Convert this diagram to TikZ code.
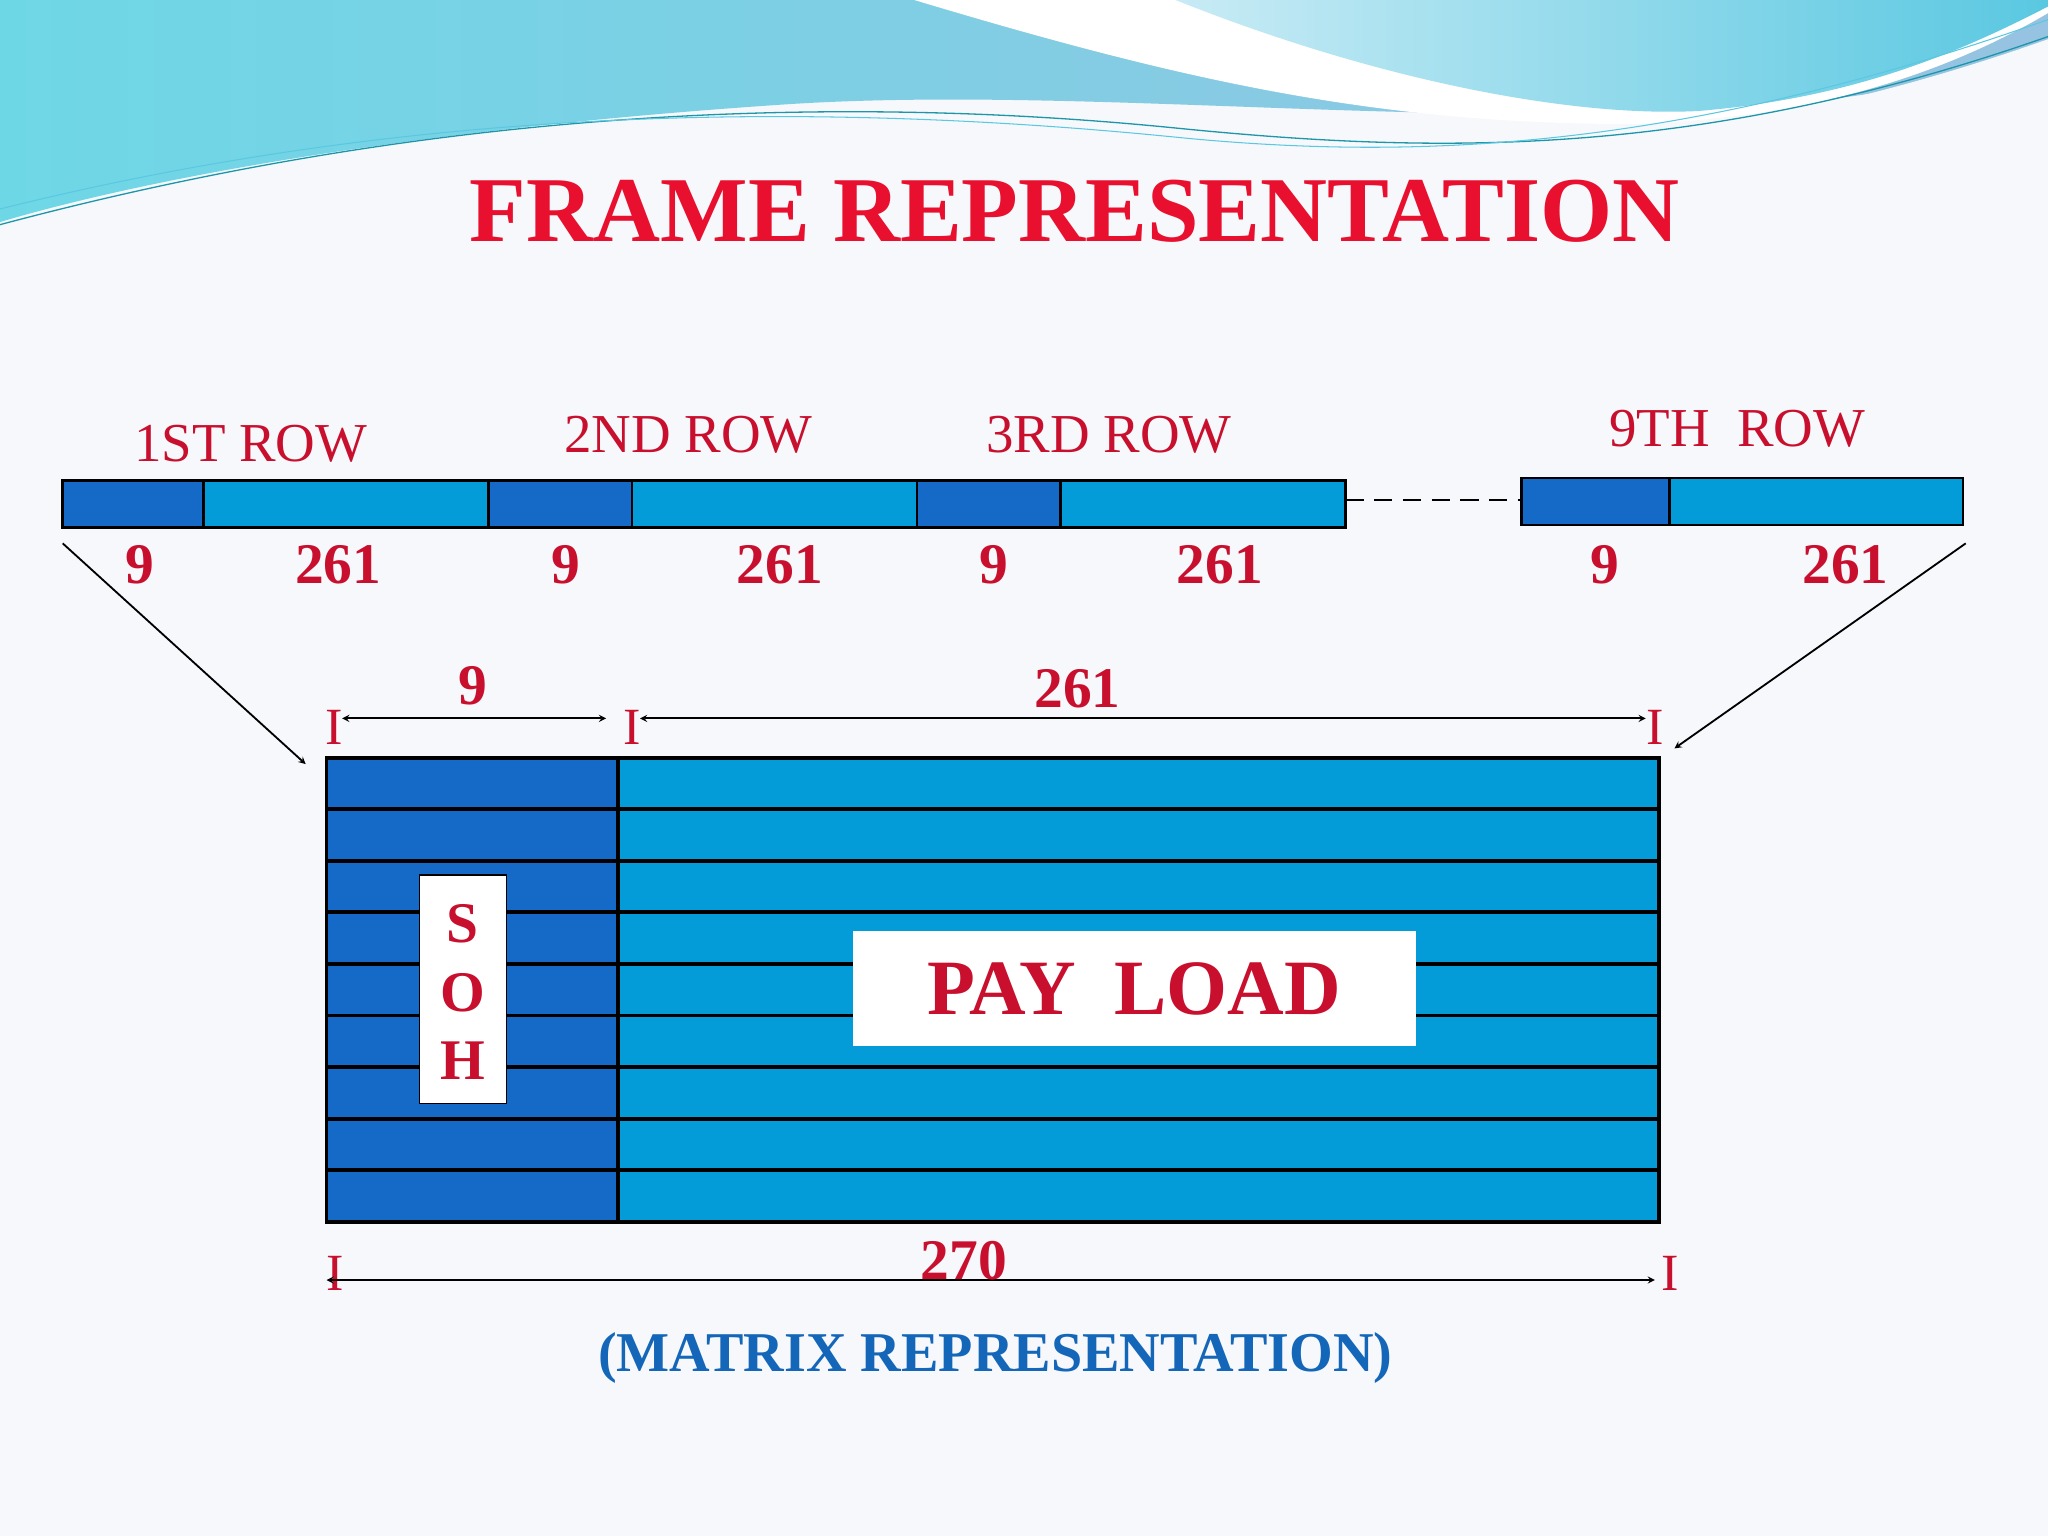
\documentclass[tikz,border=0pt]{standalone}
\usepackage{fontspec}
\setmainfont{Liberation Serif}
\definecolor{bg}{RGB}{246,248,251}
\definecolor{dkb}{RGB}{21,105,199}
\definecolor{ltb}{RGB}{4,156,216}
\definecolor{rd}{RGB}{200,16,46}
\definecolor{trd}{RGB}{232,16,46}
\definecolor{cb}{RGB}{20,102,184}
\definecolor{w1}{RGB}{110,215,230}
\definecolor{w2}{RGB}{150,195,225}
\definecolor{w3}{RGB}{200,235,245}
\definecolor{w4}{RGB}{90,200,225}
\definecolor{w5}{RGB}{30,150,170}
\begin{document}
\begin{tikzpicture}[x=1pt,y=-1pt,
  dk/.style={fill=dkb,draw=black,line width=2pt},
  lt/.style={fill=ltb,draw=black,line width=2pt},
  mdk/.style={fill=dkb,draw=black,line width=3pt},
  mlt/.style={fill=ltb,draw=black,line width=3pt},
  lbl/.style={text=rd,font=\fontsize{42}{46}\selectfont},
  num/.style={text=rd,font=\bfseries\fontsize{44}{48}\selectfont},
  arr/.style={-stealth,line width=1.4pt}]
\useasboundingbox (0,0) rectangle (1568,1176);
\fill[bg] (0,0) rectangle (1568,1176);
% waves
\shade[left color=w1,right color=w2]
 (0,0) -- (1568,0) -- (1568,40) .. controls (1300,130) and (900,60) .. (600,80) .. controls (300,100) and (100,140) .. (0,170) -- cycle;
\fill[white] (700,0) .. controls (900,60) and (1050,95) .. (1250,95) .. controls (1400,90) and (1500,50) .. (1568,10) -- (1568,0) -- cycle;
\shade[left color=w3,right color=w4]
 (900,0) .. controls (1050,60) and (1200,90) .. (1300,85) .. controls (1420,75) and (1500,40) .. (1568,5) -- (1568,0) -- cycle;
\fill[bg] (0,175) .. controls (300,95) and (600,70) .. (900,100) .. controls (1100,120) and (1300,125) .. (1568,30) -- (1568,60) .. controls (1300,140) and (1100,135) .. (900,115) .. controls (600,90) and (300,110) .. (0,190) -- cycle;
\draw[w5,line width=1pt] (0,172) .. controls (300,92) and (600,68) .. (900,98) .. controls (1100,118) and (1300,122) .. (1568,28);
\draw[w4,line width=0.8pt] (0,160) .. controls (300,85) and (600,75) .. (900,105) .. controls (1100,125) and (1300,110) .. (1568,15);
% title
\node[text=trd,font=\bfseries\fontsize{71}{76}\selectfont] (title) at (823,162) {FRAME REPRESENTATION};
% top rows
\node[lbl] (l1) at (192,340) {1ST ROW};
\node[lbl] (l2) at (527,333) {2ND ROW};
\node[lbl] (l3) at (849,333) {3RD ROW};
\node[lbl] (l9) at (1330,328) {9TH\ \ ROW};
\draw[dk] (48,368) rectangle (156,404);
\draw[lt] (156,368) rectangle (374,404);
\draw[dk] (374,368) rectangle (484,404);
\draw[lt] (484,368) rectangle (702,404);
\draw[dk] (702,368) rectangle (812,404);
\draw[lt] (812,368) rectangle (1030,404);
\coordinate (d1) at (1030,383); \coordinate (d2) at (1165,383);
\draw[line width=1.6pt,dash pattern=on 14pt off 8pt] (d1) -- (d2);
\draw[dk] (1165,366) rectangle (1278,402);
\draw[lt] (1278,366) rectangle (1503,402);
\foreach \x/\t [count=\i] in {107/9,259/261,433/9,597/261,761/9,934/261,1229/9,1413/261}
  \node[num] (n\i) at (\x,432) {\t};
% slanted arrows
\coordinate (a1) at (48,416); \coordinate (b1) at (234,585);
\coordinate (a2) at (1505,416); \coordinate (b2) at (1282,573);
\draw[arr] (a1) -- (b1);
\draw[arr] (a2) -- (b2);
% matrix
\foreach \r in {0,...,8}{
  \draw[mdk] (250,580+\r*39.5) rectangle (473,619.5+\r*39.5);
  \draw[mlt] (473,580+\r*39.5) rectangle (1270,619.5+\r*39.5);
}
\draw[line width=3pt] (473,580) -- (473,936);
\node[draw=black,fill=white,line width=1pt,minimum width=67pt,minimum height=175pt] (soh) at (354.5,757.5) {};
\foreach \y/\t in {707/S,760/O,812/H} \node[num] at (354,\y) {\t};
\node[fill=white,minimum width=431pt,minimum height=88pt,text=rd,font=\bfseries\fontsize{60}{64}\selectfont] (pay) at (868.5,757) {PAY\ \ LOAD};
% dimension markers
\foreach \x/\y [count=\i] in {256/557,484/557,1267/557,257/975,1279/975}
  \node[lbl,font=\fontsize{40}{44}\selectfont] (m\i) at (\x,\y) {I};
\coordinate (p1) at (262,550); \coordinate (p2) at (464,550);
\coordinate (p3) at (490,550); \coordinate (p4) at (1260,550);
\coordinate (p5) at (250,980); \coordinate (p6) at (1267,980);
\draw[stealth-stealth,line width=1.4pt] (p1) -- (p2);
\draw[stealth-stealth,line width=1.4pt] (p3) -- (p4);
\draw[stealth-stealth,line width=1.4pt] (p5) -- (p6);
\node[num] (w9) at (362,525) {9};
\node[num] (w261) at (825,527) {261};
\node[num] (w270) at (738,965) {270};
\node[text=cb,font=\bfseries\fontsize{43}{47}\selectfont] (cap) at (762,1040) {(MATRIX REPRESENTATION)};
\end{tikzpicture}
\end{document}
